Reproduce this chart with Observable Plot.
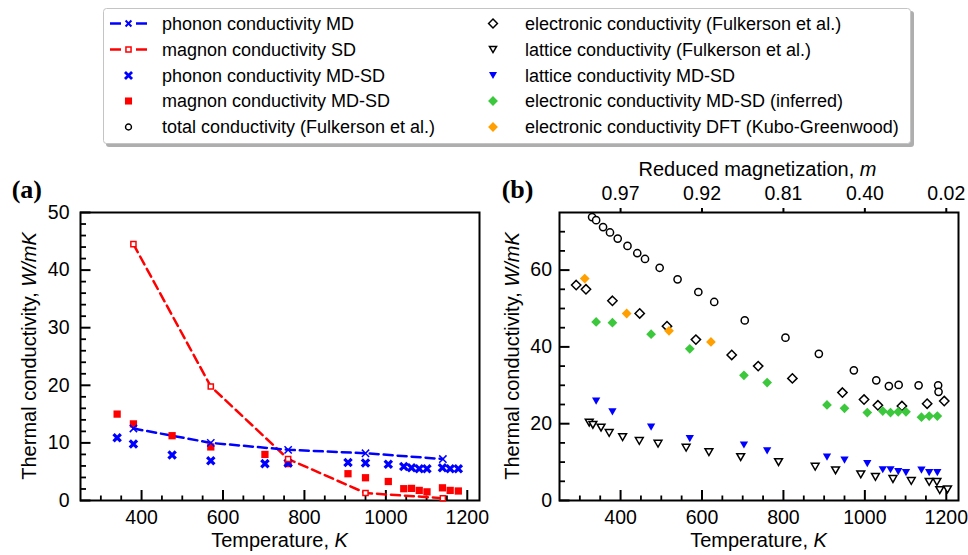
<!DOCTYPE html>
<html><head><meta charset="utf-8">
<script src="https://cdn.jsdelivr.net/npm/d3@7"></script>
<script src="https://cdn.jsdelivr.net/npm/@observablehq/plot@0.6"></script>
<style>
html,body{margin:0;padding:0;background:#fff;}
#root{position:relative;width:968px;height:555px;overflow:hidden;font-family:"Liberation Sans",Arial,sans-serif;}
#root svg{position:absolute;top:0;overflow:visible;}
</style></head><body><div id="root"></div>
<script>
// ---------- data ----------
const tMD = [380, 570, 760, 950, 1140];
const phononMD = [12.5, 10.0, 8.8, 8.2, 7.2];
const magnonSD = [44.5, 19.8, 7.2, 1.3, 0.4];

const tMDSD = [340, 380, 475, 570, 703, 760, 907, 950, 1006, 1044, 1063, 1082, 1101, 1139, 1158, 1178];
const phononMDSD = [10.9, 9.8, 7.9, 6.9, 6.4, 6.5, 6.6, 6.5, 6.3, 5.9, 5.7, 5.5, 5.5, 5.7, 5.5, 5.5];
const magnonMDSD = [15.0, 13.3, 11.25, 9.3, 8.0, 6.4, 4.65, 3.95, 3.3, 2.05, 2.1, 1.75, 1.5, 2.2, 1.75, 1.65];
const latticeMDSD = [25.9, 23.1, 19.1, 16.1, 14.45, 12.9, 11.3, 10.5, 9.6, 8.0, 8.0, 7.5, 7.25, 7.9, 7.25, 7.25];
const electronicMDSD = [46.5, 46.3, 43.3, 39.5, 32.6, 30.7, 24.9, 24.0, 22.9, 23.3, 22.9, 23.1, 23.1, 21.7, 22.0, 22.0];

const tTotalF = [330, 340, 357, 374, 393, 417, 441, 460, 496, 540, 591, 630, 705, 805, 887, 973, 1028, 1059, 1083, 1132, 1180, 1181];
const totalF = [73.8, 73.0, 71.2, 69.8, 68.2, 66.3, 64.4, 62.9, 60.6, 57.6, 54.3, 51.7, 46.9, 42.4, 38.2, 33.9, 31.3, 29.8, 30.1, 30.0, 30.0, 28.3];

const tElecF = [291, 315, 380, 447, 514, 585, 673, 738, 822, 945, 998, 1032, 1091, 1153, 1195];
const elecF = [56.1, 55.0, 52.0, 48.7, 45.4, 41.9, 37.9, 35.0, 31.8, 28.1, 26.3, 24.8, 24.6, 25.2, 25.9];

const tLatF = [323, 332, 352, 372, 405, 446, 492, 561, 617, 695, 788, 878, 928, 990, 1026, 1069, 1114, 1158, 1177, 1184, 1203];
const latF = [20.3, 19.7, 19.0, 17.6, 16.5, 15.5, 14.8, 13.75, 12.6, 11.3, 10.0, 8.8, 7.85, 6.8, 6.15, 5.6, 5.1, 4.85, 4.85, 2.7, 2.9];

const tDFT = [312, 415, 519, 622];
const elecDFT = [57.8, 48.7, 44.2, 41.3];

const xTicks = [400, 600, 800, 1000, 1200];
const yTicksA = [0, 10, 20, 30, 40, 50];
const yTicksB = [0, 20, 40, 60];
const magTicksT = [400, 600, 800, 1000, 1200];
const magLabels = ["0.97", "0.92", "0.81", "0.40", "0.02"];

const legendLabelsLeft = ["phonon conductivity MD", "magnon conductivity SD", "phonon conductivity MD-SD", "magnon conductivity MD-SD", "total conductivity (Fulkerson et al.)"];
const legendLabelsRight = ["electronic conductivity (Fulkerson et al.)", "lattice conductivity (Fulkerson et al.)", "lattice conductivity MD-SD", "electronic conductivity MD-SD (inferred)", "electronic conductivity DFT (Kubo-Greenwood)"];

// ---------- helpers ----------
const BLUE = "#0000ff", RED = "#ff0000", GREEN = "#3cc83c", ORANGE = "#ffa000";
const FONT = "'Liberation Sans', Arial, sans-serif";
const zip = (xs, ys) => xs.map((t, i) => ({t, v: ys[i]}));
const plain = d => String(d);
const triDown = {draw(ctx, size) {
  const a = Math.sqrt(size) * 1.3, h = a * Math.sqrt(3) / 2;
  ctx.moveTo(-a / 2, -h / 2); ctx.lineTo(a / 2, -h / 2); ctx.lineTo(0, h / 2); ctx.closePath();
}};
const root = document.getElementById("root");

function addText(svg, {x, y, rotate = 0, size = 20, parts, anchor = "middle", weight = "normal", family = FONT}) {
  const t = d3.select(svg).append("text")
    .attr("transform", `translate(${x},${y}) rotate(${rotate})`)
    .attr("text-anchor", anchor).attr("font-size", size).attr("font-family", family)
    .attr("font-weight", weight).attr("fill", "#000");
  parts.forEach(([s, it]) => t.append("tspan").attr("font-style", it ? "italic" : "normal").text(s));
}

const FW = 399, FH = 288;
const xMinor = d3.range(300, 1201, 50).filter(t => t % 200 !== 0);

function commonMarks(yDomainMax, yMajorStep, yMinorStep) {
  const yMinor = d3.range(0, yDomainMax, yMinorStep).filter(v => v % yMajorStep !== 0);
  const yMajor = d3.range(0, yDomainMax, yMajorStep);
  return [
    Plot.tickX(xMinor, {x: d => d, insetTop: FH - 4.5, strokeWidth: 1.8}),
    Plot.tickX(xTicks, {x: d => d, insetTop: FH - 10, strokeWidth: 2}),
    Plot.tickY(yMinor, {y: d => d, insetRight: FW - 6, strokeWidth: 1.8}),
    Plot.tickY(yMajor, {y: d => d, insetRight: FW - 10.5, strokeWidth: 2}),
    Plot.axisX(xTicks, {anchor: "bottom", tickSize: 0, tickPadding: 10, label: null, tickFormat: plain}),
    Plot.frame({strokeWidth: 2})
  ];
}

// ---------- panel (a) ----------
const pa = Plot.plot({
  width: 490, height: 555, marginLeft: 80, marginRight: 11, marginTop: 212, marginBottom: 55,
  style: {fontFamily: FONT, fontSize: "19.5px", color: "#000", background: "transparent", overflow: "visible"},
  x: {domain: [250, 1230]}, y: {domain: [0, 50]},
  marks: [
    ...commonMarks(50.01, 10, 2),
    Plot.axisY(yTicksA, {anchor: "left", tickSize: 0, tickPadding: 11, label: null, tickFormat: plain}),
    Plot.line(zip(tMD, magnonSD), {x: "t", y: "v", stroke: RED, strokeWidth: 2.5, strokeDasharray: "9,5"}),
    Plot.line(zip(tMD, phononMD), {x: "t", y: "v", stroke: BLUE, strokeWidth: 2.5, strokeDasharray: "9,5"}),
    Plot.dot(zip(tMDSD, magnonMDSD), {x: "t", y: "v", symbol: "square", r: 4.1, fill: RED, stroke: "none"}),
    Plot.dot(zip(tMDSD, phononMDSD), {x: "t", y: "v", symbol: "times", r: 3.4, stroke: BLUE, strokeWidth: 3.2}),
    Plot.dot(zip(tMD, magnonSD), {x: "t", y: "v", symbol: "square", r: 2.9, fill: "white", stroke: RED, strokeWidth: 1.5}),
    Plot.dot(zip(tMD, phononMD), {x: "t", y: "v", symbol: "times", r: 3.4, stroke: BLUE, strokeWidth: 1.5})
  ]
});
pa.style.left = "0px";
root.appendChild(pa);
addText(pa, {x: 36, y: 356, rotate: -90, parts: [["Thermal conductivity, ", false], ["W/mK", true]]});
addText(pa, {x: 279.5, y: 547, parts: [["Temperature, ", false], ["K", true]]});
addText(pa, {x: 11.7, y: 198, anchor: "start", size: 26, weight: "bold", family: "'Liberation Serif', 'Times New Roman', serif", parts: [["(a)", false]]});

// ---------- panel (b) ----------
const pb = Plot.plot({
  width: 478, height: 555, marginLeft: 69, marginRight: 10, marginTop: 212, marginBottom: 55,
  style: {fontFamily: FONT, fontSize: "19.5px", color: "#000", background: "transparent", overflow: "visible"},
  x: {domain: [250, 1230]}, y: {domain: [0, 75]},
  marks: [
    ...commonMarks(75, 20, 5),
    Plot.axisY(yTicksB, {anchor: "left", tickSize: 0, tickPadding: 7.5, label: null, tickFormat: plain}),
    Plot.axisX(magTicksT, {anchor: "top", tickSize: 5, tickPadding: 8, strokeWidth: 2, label: null,
      tickFormat: d => magLabels[magTicksT.indexOf(d)]}),
    Plot.dot(zip(tTotalF, totalF), {x: "t", y: "v", symbol: "circle", r: 3.6, fill: "white", stroke: "#000", strokeWidth: 1.5}),
    Plot.dot(zip(tElecF, elecF), {x: "t", y: "v", symbol: "diamond2", r: 4.2, fill: "white", stroke: "#000", strokeWidth: 1.5}),
    Plot.dot(zip(tLatF, latF), {x: "t", y: "v", symbol: triDown, r: 3.4, fill: "white", stroke: "#000", strokeWidth: 1.5}),
    Plot.dot(zip(tDFT, elecDFT), {x: "t", y: "v", symbol: "diamond2", r: 4.4, fill: ORANGE, stroke: "none"}),
    Plot.dot(zip(tMDSD, electronicMDSD), {x: "t", y: "v", symbol: "diamond2", r: 4.4, fill: GREEN, stroke: "none"}),
    Plot.dot(zip(tMDSD, latticeMDSD), {x: "t", y: "v", symbol: triDown, r: 3.6, fill: BLUE, stroke: "none"})
  ]
});
pb.style.left = "490px";
root.appendChild(pb);
addText(pb, {x: 29.3, y: 356, rotate: -90, parts: [["Thermal conductivity, ", false], ["W/mK", true]]});
addText(pb, {x: 268.5, y: 547, parts: [["Temperature, ", false], ["K", true]]});
addText(pb, {x: 267.5, y: 176, parts: [["Reduced magnetization, ", false], ["m", true]]});
addText(pb, {x: 11.7, y: 198, anchor: "start", size: 26, weight: "bold", family: "'Liberation Serif', 'Times New Roman', serif", parts: [["(b)", false]]});

// ---------- legend ----------
const lg = d3.select(root).append("svg").attr("width", 968).attr("height", 150).style("left", "0px");
lg.append("rect").attr("x", 106).attr("y", 11).attr("width", 808).attr("height", 136).attr("rx", 3).attr("fill", "#9a9a9a").attr("opacity", 0.8);
lg.append("rect").attr("x", 103.5).attr("y", 8.5).attr("width", 807).attr("height", 135).attr("rx", 3).attr("fill", "white").attr("stroke", "#c4c4c4");
const rowY = [23.5, 49.5, 75.5, 101, 127];
const sym = (type, size) => d3.symbol(type, size)();
const triPath = (size) => d3.symbol(triDown, size)();
const leftMarkers = [
  g => { g.append("line").attr("x1", 110).attr("x2", 121).attr("stroke", BLUE).attr("stroke-width", 2.5);
         g.append("line").attr("x1", 136).attr("x2", 147).attr("stroke", BLUE).attr("stroke-width", 2.5);
         g.append("path").attr("d", sym(d3.symbolTimes, 24)).attr("transform", "translate(128.5,0)").attr("stroke", BLUE).attr("stroke-width", 2).attr("fill", "none"); },
  g => { g.append("line").attr("x1", 110).attr("x2", 121).attr("stroke", RED).attr("stroke-width", 2.5);
         g.append("line").attr("x1", 136).attr("x2", 147).attr("stroke", RED).attr("stroke-width", 2.5);
         g.append("path").attr("d", sym(d3.symbolSquare, 26)).attr("transform", "translate(128.5,0)").attr("stroke", RED).attr("stroke-width", 1.5).attr("fill", "white"); },
  g => g.append("path").attr("d", sym(d3.symbolTimes, 34)).attr("transform", "translate(128.5,0)").attr("stroke", BLUE).attr("stroke-width", 2.8).attr("fill", "none"),
  g => g.append("path").attr("d", sym(d3.symbolSquare, 50)).attr("transform", "translate(128.5,0)").attr("fill", RED),
  g => g.append("path").attr("d", sym(d3.symbolCircle, 28)).attr("transform", "translate(128.5,0)").attr("stroke", "#000").attr("stroke-width", 1.4).attr("fill", "white")
];
const rightMarkers = [
  g => g.append("path").attr("d", sym(d3.symbolDiamond2, 50)).attr("transform", "translate(493,0)").attr("stroke", "#000").attr("stroke-width", 1.5).attr("fill", "white"),
  g => g.append("path").attr("d", triPath(30)).attr("transform", "translate(493,0)").attr("stroke", "#000").attr("stroke-width", 1.5).attr("fill", "white"),
  g => g.append("path").attr("d", triPath(38)).attr("transform", "translate(493,0)").attr("fill", BLUE),
  g => g.append("path").attr("d", sym(d3.symbolDiamond2, 62)).attr("transform", "translate(493,0)").attr("fill", GREEN),
  g => g.append("path").attr("d", sym(d3.symbolDiamond2, 62)).attr("transform", "translate(493,0)").attr("fill", ORANGE)
];
rowY.forEach((y, i) => {
  const g1 = lg.append("g").attr("transform", `translate(0,${y})`);
  leftMarkers[i](g1);
  g1.append("text").attr("x", 162).attr("y", 6.3).attr("font-size", 18).attr("font-family", FONT).attr("fill", "#000").text(legendLabelsLeft[i]);
  const g2 = lg.append("g").attr("transform", `translate(0,${y})`);
  rightMarkers[i](g2);
  g2.append("text").attr("x", 525).attr("y", 6.3).attr("font-size", 18).attr("font-family", FONT).attr("fill", "#000").text(legendLabelsRight[i]);
});
</script>
</body></html>
